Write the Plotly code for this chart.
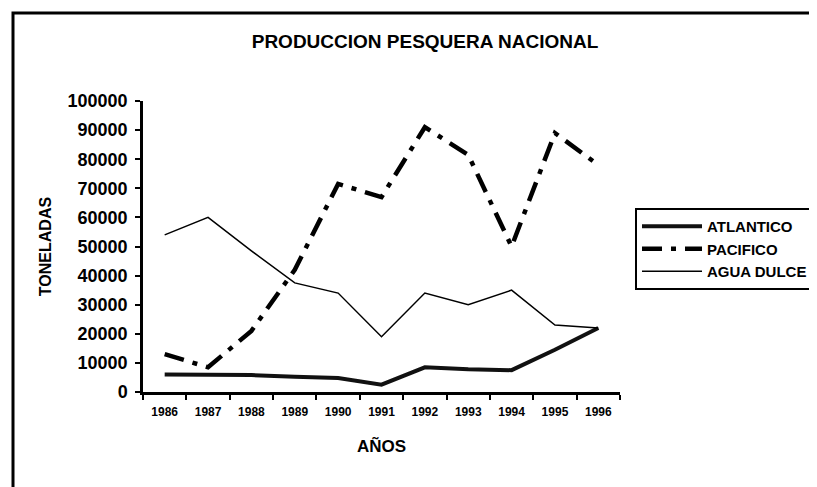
import plotly.graph_objects as go

years = ["1986", "1987", "1988", "1989", "1990", "1991", "1992", "1993", "1994", "1995", "1996"]
atlantico = [6000, 6000, 5800, 5200, 4800, 2500, 8500, 7800, 7500, 14500, 22000]
pacifico = [13000, 8500, 21000, 42000, 71500, 67000, 91000, 81500, 50000, 89000, 78000]
agua_dulce = [54000, 60000, 48500, 37500, 34000, 19000, 34000, 30000, 35000, 23000, 22000]

series_names = ["ATLANTICO", "PACIFICO", "AGUA DULCE"]
y_ticks = list(range(0, 100001, 10000))

FONT = "Liberation Sans, Arial, sans-serif"
NARROW = "Liberation Sans Narrow, Arial Narrow, Liberation Sans, Arial, sans-serif"

# page body has an 8px margin; figure sized to fill the rest of the 817x487 window
W, H = 809, 479
L, R, T, B = 135, 612, 93, 384          # plot area in figure pixels
PW, PH = R - L, B - T

fig = go.Figure()
fig.add_trace(go.Scatter(x=years, y=atlantico, name=series_names[0], mode="lines",
                         line=dict(color="#111111", width=4)))
fig.add_trace(go.Scatter(x=years, y=pacifico, name=series_names[1], mode="lines",
                         line=dict(color="#000000", width=4.5, dash="20px,9px,5px,9px")))
fig.add_trace(go.Scatter(x=years, y=agua_dulce, name=series_names[2], mode="lines",
                         line=dict(color="#000000", width=1.5)))

fig.update_layout(
    width=W, height=H,
    margin=dict(l=L, r=W - R, t=T, b=H - B, autoexpand=False),
    paper_bgcolor="white", plot_bgcolor="white",
    font=dict(family=FONT, color="black"),
    title=dict(text="PRODUCCION PESQUERA NACIONAL", x=417 / W, xanchor="center",
               y=1 - 33 / H, yanchor="middle",
               font=dict(family=FONT, size=19, weight=700, color="black")),
    xaxis=dict(type="category", range=[-0.5, 10.5], tickson="boundaries",
               ticks="outside", ticklen=5, tickwidth=2, tickcolor="black",
               showline=True, linewidth=3, linecolor="black",
               showgrid=False, zeroline=False, ticklabelstandoff=7,
               tickfont=dict(family=NARROW, size=12, weight=700),
               title=dict(text="AÑOS", standoff=22,
                          font=dict(family=FONT, size=17, weight=700))),
    yaxis=dict(range=[0, 100000], tickvals=y_ticks, tickformat="d",
               ticks="outside", ticklen=5, tickwidth=2, tickcolor="black",
               showline=True, linewidth=2.5, linecolor="black",
               showgrid=False, zeroline=False, ticklabelstandoff=4,
               tickfont=dict(family=FONT, size=18, weight=700),
               title=dict(text="TONELADAS", standoff=12,
                          font=dict(family=FONT, size=16, weight=700))),
    legend=dict(x=(627 - L) / PW, y=(B - 200) / PH, xanchor="left", yanchor="top",
                bordercolor="black", borderwidth=2, bgcolor="white",
                font=dict(family=FONT, size=15, weight=700),
                tracegroupgap=0, itemwidth=60),
    showlegend=True,
)

# outer chart border: only top and left edges fall inside the picture
bx0 = (5 - L) / PW
bx1 = (900 - L) / PW
by_top = (B - 5) / PH
by_bot = (B - 560) / PH
fig.add_shape(type="path", xref="paper", yref="paper",
              path=f"M {bx1},{by_top} L {bx0},{by_top} L {bx0},{by_bot}",
              line=dict(color="black", width=3), layer="below")

fig.write_html("out.html",
               post_script="document.documentElement.style.overflow='hidden';"
                           "document.body.style.overflow='hidden';")
